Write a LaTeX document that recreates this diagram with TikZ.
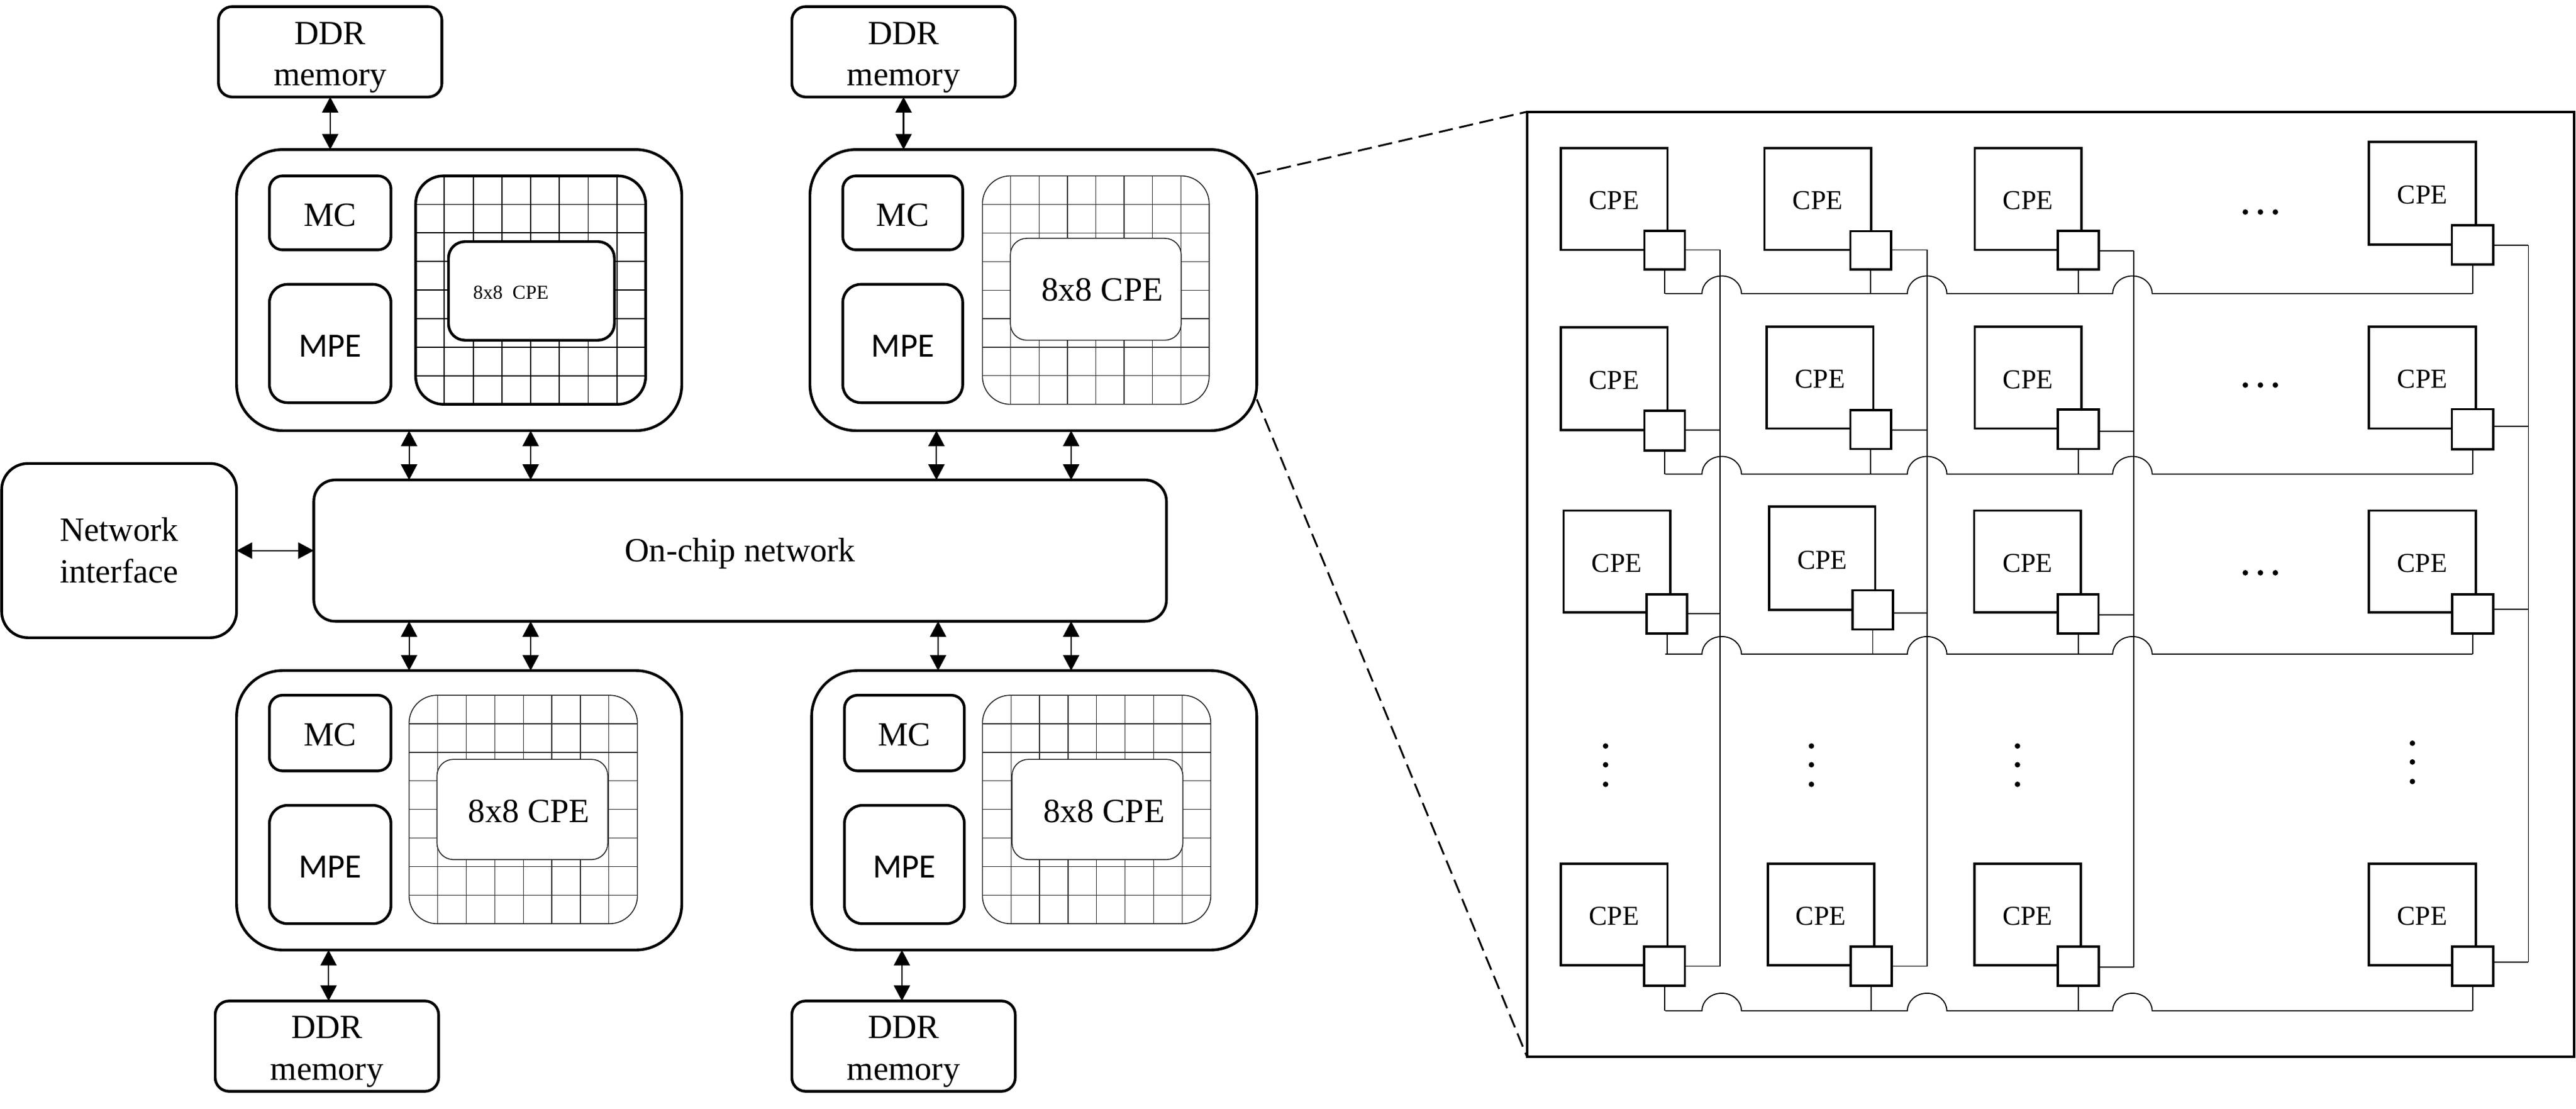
\documentclass[tikz,border=0pt]{standalone}
\usepackage{fontspec}
\setmainfont{Liberation Serif}
\newfontfamily\calfont{Carlito}
\usetikzlibrary{arrows.meta}
\def\uu{0.02641cm}
\tikzset{
  x=0.02641cm, y=-0.02641cm,
  rbox/.style={draw=black, line width=1.25pt, fill=white, rounded corners=#1, inner sep=0pt, outer sep=0pt, align=center, font=\fontsize{15.5}{19}\selectfont},
  capline/.style={text height=12pt, text depth=0pt},
  gridbox/.style={draw=black, line width=1.25pt, inner sep=0pt, outer sep=0pt, rounded corners=#1},
  thinbox/.style={draw=black!85, line width=0.45pt, fill=white, rounded corners=#1, inner sep=0pt, outer sep=0pt},
  cpebox/.style={draw=black, line width=1.05pt, fill=white, inner sep=0pt, outer sep=0pt, font=\fontsize{12.5}{15}\selectfont, text height=9.8pt, text depth=0pt},
  routerbox/.style={draw=black, line width=1.05pt, fill=white, inner sep=0pt, outer sep=0pt},
  biarrow/.style={line width=0.6pt, {Triangle[length=7.1pt,width=7.4pt]}-{Triangle[length=7.1pt,width=7.4pt]}},
  wire/.style={draw=black, line width=0.5pt},
  zoomline/.style={draw=black, line width=0.85pt, dash pattern=on 6.5pt off 3pt},
  dotmark/.style={circle, fill=black, inner sep=0pt, minimum size=2.5pt},
  txt/.style={inner sep=0pt, outer sep=0pt, align=center, font=\fontsize{15.5}{19}\selectfont},
  fine/.style={line width=0.35pt, black!80}
}
% \bx{style}{name}{x1}{y1}{x2}{y2}{text}
\newcommand{\bx}[7]{\node[#1, minimum width={(#5-#3)*\uu}, minimum height={(#6-#4)*\uu}] (#2) at ({(#3+#5)/2},{(#4+#6)/2}) {#7};}
% \ddrbox{name}{x1}{y1}{x2}{y2}
\newcommand{\ddrbox}[5]{\bx{rbox=8.4*\uu}{#1}{#2}{#3}{#4}{#5}{}\node[txt] (#1t) at ([yshift={-3.5*\uu}]#1.center) {DDR\\memory};}
% \gridlines{x1}{y1}{x2}{y2}{line style}
\newcommand{\gridlines}[5]{%
  \foreach \k in {1,...,7}{
    \draw[#5] ({#1+\k*(#3-#1)/8},#2) -- ({#1+\k*(#3-#1)/8},#4);
    \draw[#5] (#1,{#2+\k*(#4-#2)/8}) -- (#3,{#2+\k*(#4-#2)/8});
  }}
% \cell{id}{cx1}{cy1}{cx2}{cy2}{rx1}{ry1}{rx2}{ry2}
\newcommand{\cell}[9]{\bx{cpebox}{C#1}{#2}{#3}{#4}{#5}{CPE}\bx{routerbox}{R#1}{#6}{#7}{#8}{#9}{}}
% hop of half width 12 and height 10.7 over a vertical wire
\newcommand{\hopat}[2]{-- (#1-12,#2) .. controls (#1-12,#2-6) and (#1-6.6,#2-10.7) .. (#1,#2-10.7) .. controls (#1+6.6,#2-10.7) and (#1+12,#2-6) .. (#1+12,#2)}
\begin{document}
\begin{tikzpicture}
\useasboundingbox (0,0) rectangle (1568,674.4);
\fill[white] (0,0) rectangle (1568,674.4);
% memories
\ddrbox{ddrA}{133}{4}{269}{59}
\ddrbox{ddrB}{482}{4}{618}{59}
\ddrbox{ddrC}{131}{609}{267}{664}
\ddrbox{ddrD}{482}{609}{618}{664}
% clusters
\bx{rbox=28*\uu}{clA}{144}{91}{415}{262}{}
\bx{rbox=28*\uu}{clB}{493}{91}{765}{262}{}
\bx{rbox=28*\uu}{clC}{144}{408}{415}{578}{}
\bx{rbox=28*\uu}{clD}{494}{408}{765}{578}{}
% MC / MPE
\bx{rbox=8*\uu,capline}{mcA}{164}{107}{238}{152}{MC}
\bx{rbox=8*\uu,capline}{mcB}{513}{107}{586}{152}{MC}
\bx{rbox=8*\uu,capline}{mcC}{164}{423}{238}{469}{MC}
\bx{rbox=8*\uu,capline}{mcD}{514}{423}{587}{469}{MC}
\bx{rbox=11*\uu,capline}{mpeA}{164}{173}{238}{245}{\calfont MPE}
\bx{rbox=11*\uu,capline}{mpeB}{513}{173}{586}{245}{\calfont MPE}
\bx{rbox=11*\uu,capline}{mpeC}{164}{490}{238}{562}{\calfont MPE}
\bx{rbox=11*\uu,capline}{mpeD}{514}{490}{587}{562}{\calfont MPE}
% grids
\gridlines{253}{107}{393}{246}{line width=0.55pt}
\bx{gridbox=17*\uu}{gA}{253}{107}{393}{246}{}
\bx{rbox=10*\uu}{inA}{273}{147}{374}{207}{}
\node[txt, font=\fontsize{9}{11}\selectfont] (tA) at (311,178) {8x8\ \ CPE};
\gridlines{598}{107}{736}{246}{fine}
\bx{gridbox=17*\uu, draw=black!85, line width=0.45pt}{gB}{598}{107}{736}{246}{}
\bx{thinbox=10*\uu}{inB}{615}{145}{719}{207}{}
\node[txt] (tB) at (671,176.5) {8x8 CPE};
\gridlines{249}{423}{388}{562}{fine}
\bx{gridbox=17*\uu, draw=black!85, line width=0.45pt}{gC}{249}{423}{388}{562}{}
\bx{thinbox=10*\uu}{inC}{266}{462}{370}{523}{}
\node[txt] (tC) at (322,493.5) {8x8 CPE};
\gridlines{598}{423}{737}{562}{fine}
\bx{gridbox=17*\uu, draw=black!85, line width=0.45pt}{gD}{598}{423}{737}{562}{}
\bx{thinbox=10*\uu}{inD}{616}{462}{720}{523}{}
\node[txt] (tD) at (672,493.5) {8x8 CPE};
% network
\bx{rbox=13*\uu, text height=11pt, text depth=0.8pt}{noc}{191}{292}{710}{378}{On-chip network}
\bx{rbox=16*\uu}{nif}{1}{282}{144}{388}{Network\\interface}
% arrows
\draw[biarrow] (ddrA.south) -- (ddrA.south |- clA.north);
\draw[biarrow] (ddrB.south) -- (ddrB.south |- clB.north);
\draw[biarrow] (ddrC.north -| 200,0) -- (clC.south -| 200,0);
\draw[biarrow] (ddrD.north -| 549,0) -- (clD.south -| 549,0);
\foreach \xa/\cl in {249/clA,323/clA,570/clB,652/clB}{
  \draw[biarrow] (\cl.south -| \xa,0) -- (noc.north -| \xa,0);
}
\foreach \xa/\cl in {249/clC,323/clC,571/clD,652/clD}{
  \draw[biarrow] (\cl.north -| \xa,0) -- (noc.south -| \xa,0);
}
\draw[biarrow] (nif.east) -- (noc.west |- nif.east);
% panel
\bx{draw=black, line width=1.1pt, inner sep=0pt, outer sep=0pt}{panel}{929.5}{68}{1567}{643}{}
\draw[zoomline] (clB.north east |- 0,106) -- (panel.north west);
\draw[zoomline] (clB.south east |- 0,243) -- (panel.south west);
% vertical wires
\coordinate (Vtop1) at (1047,152); \coordinate (Vbot1) at (1047,588);
\coordinate (Vtop2) at (1173,152); \coordinate (Vbot2) at (1173,588);
\coordinate (Vtop3) at (1298.7,152.7); \coordinate (Vbot3) at (1298.7,588.5);
\coordinate (Vtop4) at (1539,149.3); \coordinate (Vbot4) at (1539,585.3);
\foreach \v in {1,2,3,4}{ \draw[wire] (Vtop\v) -- (Vbot\v); }
% horizontal bus wires with hops
\foreach \r/\yy in {1/178.6,2/288.4,3/398,5/615}{
  \draw[wire] (1013.6,\yy) \hopat{1048}{\yy} \hopat{1173}{\yy} \hopat{1298}{\yy} -- (1505,\yy);
}
% cells
\cell{11}{950}{90}{1015}{152}{1001}{140.4}{1025.6}{164}
\cell{12}{1074}{90}{1139}{152}{1126.3}{140.7}{1151}{164}
\cell{13}{1202}{90}{1267}{152}{1252.6}{140.5}{1277.6}{164}
\cell{14}{1442}{86.4}{1507}{148.7}{1492.5}{137}{1517.7}{161}
\cell{21}{950}{199.2}{1015}{261.7}{1001}{250}{1025.6}{274.2}
\cell{22}{1075.4}{198.8}{1140.3}{260.7}{1126.3}{249.5}{1151}{273.2}
\cell{23}{1202}{198.9}{1267}{260.7}{1252.6}{249.2}{1277.6}{273.2}
\cell{24}{1442}{198.8}{1507}{260.7}{1492.5}{249}{1517.7}{273.4}
\cell{31}{951.7}{310.7}{1016.7}{372.6}{1002.4}{361.5}{1027}{385.5}
\cell{32}{1077}{308.3}{1141.4}{371}{1127.5}{359.2}{1152.3}{383}
\cell{33}{1201.7}{310.7}{1266.7}{372.6}{1252.7}{361.5}{1277.4}{385.5}
\cell{34}{1441.9}{310.7}{1507}{372.6}{1492.7}{361.5}{1517.7}{385.5}
\cell{51}{950}{525.5}{1015}{587.4}{1000.8}{576}{1025.6}{599.7}
\cell{52}{1076}{525.5}{1140.8}{587.4}{1126.6}{576}{1151.4}{599.7}
\cell{53}{1201.8}{525.5}{1266.6}{587.4}{1252.7}{576}{1277.5}{599.7}
\cell{54}{1441.9}{525.5}{1507}{587.4}{1492.7}{576}{1517.6}{599.7}
% stubs
\foreach \r/\yy in {1/178.6,2/288.4,3/398,5/615}{
  \foreach \c in {1,2,3,4}{
    \draw[wire] (R\r\c.south) -- (R\r\c.south |- 0,\yy);
  }
}
% spokes to the vertical wires
\foreach \r/\ya/\yb/\yc/\yd in {1/152/152/152.7/149.3,2/261.7/261.6/262.5/259.4,3/373.2/373/374/370.7,5/587.8/587.8/588.5/585.3}{
  \draw[wire] (R\r1.east |- 0,\ya) -- (Vtop1 |- 0,\ya);
  \draw[wire] (R\r2.east |- 0,\yb) -- (Vtop2 |- 0,\yb);
  \draw[wire] (R\r3.east |- 0,\yc) -- (Vtop3 |- 0,\yc);
  \draw[wire] (R\r4.east |- 0,\yd) -- (Vtop4 |- 0,\yd);
}
% ellipses
\foreach \yy in {129,234.3,348.5}{
  \foreach \xx in {1366.7,1375.9,1385}{ \node[dotmark] at (\xx,\yy) {}; }
}
\foreach \xx/\dd in {977.3/0,1102.6/0,1228/0,1468.4/-1.7}{
  \foreach \yy in {453.9,465.3,477.2}{ \node[dotmark] at (\xx,\yy+\dd) {}; }
}
\end{tikzpicture}
\end{document}
